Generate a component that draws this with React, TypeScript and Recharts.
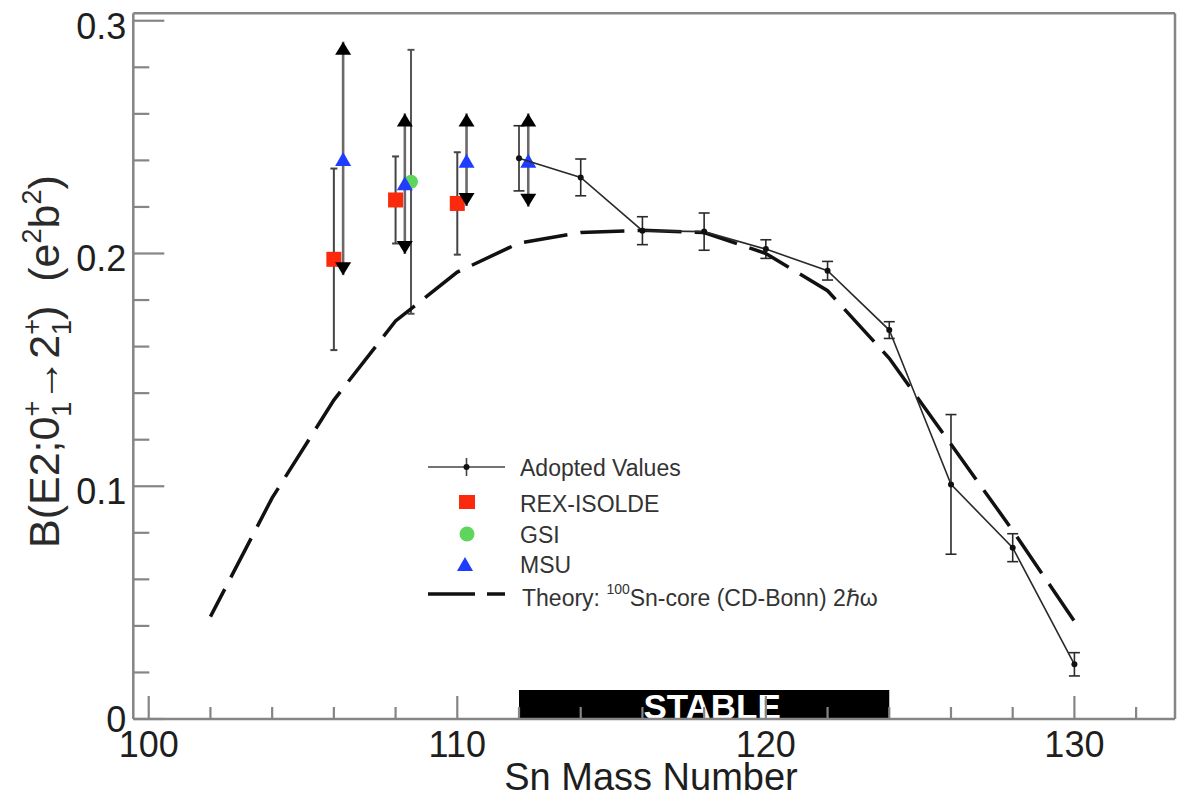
import { ScatterChart, Scatter, XAxis, YAxis, ErrorBar, ReferenceArea, Legend } from 'recharts'

const FONT = "'Liberation Sans', Arial, Helvetica, sans-serif"
const FRAME = '#858585'
const INK = '#1e1e1e'
const RED = '#fb2a0c'
const GREEN = '#5fd55c'
const BLUE = '#1f3dff'

// adopted B(E2; 0+ -> 2+) values for the Sn chain
const adoptedMass = [112, 114, 116, 118, 120, 122, 124, 126, 128, 130]
const adoptedBE2 = [0.2409, 0.2327, 0.2098, 0.2094, 0.2019, 0.1926, 0.1671, 0.1008, 0.0736, 0.0235]
const adoptedErr = [0.014, 0.0079, 0.006, 0.008, 0.004, 0.004, 0.0036, 0.03, 0.006, 0.005]

// REX-ISOLDE
const rexMass = [106, 108, 110]
const rexBE2 = [0.1975, 0.223, 0.2215]
const rexErr = [0.039, 0.0187, 0.022]

// GSI
const gsiMass = [108.5]
const gsiBE2 = [0.2308]
const gsiErr = [0.0567]

// MSU, with the ends of each range
const msuMass = [106.3, 108.3, 110.3, 112.3]
const msuBE2 = [0.2402, 0.2298, 0.2394, 0.2394]
const msuUpper = [0.291, 0.2602, 0.2602, 0.2602]
const msuLower = [0.1907, 0.1998, 0.2204, 0.2201]

// shell model, 100Sn core, CD-Bonn
const theoryMass = [102, 104, 106, 108, 110, 112, 114, 116, 118, 120, 122, 124, 126, 128, 130]
const theoryBE2 = [0.044, 0.095, 0.137, 0.171, 0.192, 0.2045, 0.209, 0.21, 0.209, 0.2, 0.184, 0.155, 0.118, 0.081, 0.042]

// stable isotopes band
const stableFrom = 112
const stableTo = 124
const stableHeight = 0.0125

const xDomain = [99.5, 133.26]
const yDomain = [0, 0.3032]
const xTicks = [100, 102, 104, 106, 108, 110, 112, 114, 116, 118, 120, 122, 124, 126, 128, 130, 132]
const xMajor = [100, 110, 120, 130]
const yTicks = [0, 0.02, 0.04, 0.06, 0.08, 0.1, 0.12, 0.14, 0.16, 0.18, 0.2, 0.22, 0.24, 0.26, 0.28, 0.3]
const yMajor = [0, 0.1, 0.2, 0.3]
const yMajorLabels = ['0', '0.1', '0.2', '0.3']

const adopted = adoptedMass.map((x, i) => ({ x, y: adoptedBE2[i], err: adoptedErr[i] }))
const rex = rexMass.map((x, i) => ({ x, y: rexBE2[i], err: rexErr[i] }))
const gsi = gsiMass.map((x, i) => ({ x, y: gsiBE2[i], err: gsiErr[i] }))
const msu = msuMass.map((x, i) => ({ x, y: msuBE2[i], err: [msuBE2[i] - msuLower[i], msuUpper[i] - msuBE2[i]] }))
const msuUp = msuMass.map((x, i) => ({ x, y: msuUpper[i] }))
const msuDown = msuMass.map((x, i) => ({ x, y: msuLower[i] }))
const theory = theoryMass.map((x, i) => ({ x, y: theoryBE2[i] }))

function XTick({ x, y, payload }: any) {
  const major = xMajor.includes(payload.value)
  return (
    <g>
      <line x1={x} x2={x} y1={y} y2={y - (major ? 23 : 12)} stroke={FRAME} strokeWidth={2.2} />
      {major && (
        <text x={x} y={y + 38} textAnchor="middle" fontSize={36} fill={INK} fontFamily={FONT}>
          {payload.value}
        </text>
      )}
    </g>
  )
}

function YTick({ x, y, payload }: any) {
  const i = yMajor.indexOf(payload.value)
  // the zero label sits a little higher so it clears the "100" below it
  const dy = payload.value === 0 ? 13 : 18
  return (
    <g>
      <line x1={x} x2={x + (i >= 0 ? 31 : 16)} y1={y} y2={y} stroke={FRAME} strokeWidth={2.2} />
      {i >= 0 && (
        <text x={x - 7} y={y + dy} textAnchor="end" fontSize={36} fill={INK} fontFamily={FONT}>
          {yMajorLabels[i]}
        </text>
      )}
    </g>
  )
}

function XTitle() {
  return (
    <text x={651} y={790} textAnchor="middle" fontSize={38} fill={INK} fontFamily={FONT}>
      Sn Mass Number
    </text>
  )
}

// B(E2;0+1 -> 2+1)  (e2b2), stacked sup/sub on the state labels
function YTitle() {
  return (
    <text transform="translate(59,548) rotate(-90)" fontSize={43} fill="#2a2a2a" fontFamily={FONT}>
      <tspan>B(E2;0</tspan>
      <tspan fontSize={27} dy={-18}>+</tspan>
      <tspan fontSize={27} dx={-16} dy={30}>1</tspan>
      <tspan dy={-12}>{'\u2192'}2</tspan>
      <tspan fontSize={27} dy={-18}>+</tspan>
      <tspan fontSize={27} dx={-16} dy={30}>1</tspan>
      <tspan dy={-12}>{')\u00a0\u00a0(e'}</tspan>
      <tspan fontSize={27} dy={-18}>2</tspan>
      <tspan dy={18}>b</tspan>
      <tspan fontSize={27} dy={-18}>2</tspan>
      <tspan dy={18}>)</tspan>
    </text>
  )
}

function StableLabel({ viewBox }: any) {
  return (
    <text
      x={viewBox.x + viewBox.width / 2 + 8}
      y={viewBox.y + viewBox.height}
      textAnchor="middle"
      fontSize={35}
      fontWeight="bold"
      fill="#fff"
      fontFamily={FONT}
    >
      STABLE
    </text>
  )
}

const Square = ({ cx, cy }: any) => <rect x={cx - 7.5} y={cy - 7.5} width={15} height={15} fill={RED} />
const Dot = ({ cx, cy }: any) => <circle cx={cx} cy={cy} r={7} fill={GREEN} />
const Triangle = ({ cx, cy }: any) => (
  <polygon points={`${cx},${cy - 8} ${cx - 8},${cy + 6} ${cx + 8},${cy + 6}`} fill={BLUE} />
)
const SmallDot = ({ cx, cy }: any) => <circle cx={cx} cy={cy} r={3} fill="#111" />
const ArrowUp = ({ cx, cy }: any) => (
  <polygon points={`${cx},${cy} ${cx - 8},${cy + 13} ${cx + 8},${cy + 13}`} fill="#000" />
)
const ArrowDown = ({ cx, cy }: any) => (
  <polygon points={`${cx},${cy} ${cx - 8},${cy - 13} ${cx + 8},${cy - 13}`} fill="#000" />
)
const NoMark = () => <g />

function LegendBox() {
  const t = { fontSize: 23, fill: '#333', fontFamily: FONT }
  return (
    <svg width={490} height={170} style={{ display: 'block', overflow: 'visible' }}>
      <line x1={8} x2={85} y1={17} y2={17} stroke="#444" strokeWidth={1.6} />
      <line x1={46.5} x2={46.5} y1={8} y2={26} stroke="#444" strokeWidth={1.6} />
      <circle cx={46.5} cy={17} r={3} fill="#111" />
      <text x={100} y={25.5} {...t}>Adopted Values</text>

      <rect x={39} y={45} width={16} height={14} fill={RED} />
      <text x={100} y={61.5} {...t}>REX-ISOLDE</text>

      <circle cx={47} cy={84} r={7.5} fill={GREEN} />
      <text x={100} y={93} {...t}>GSI</text>

      <polygon points="45,107 37,121 53,121" fill={BLUE} />
      <text x={100} y={122.5} {...t}>MSU</text>

      <line x1={8} x2={85} y1={144} y2={144} stroke="#111" strokeWidth={3.5} strokeDasharray="47 12" />
      <text x={102} y={155.5} {...t}>
        Theory: <tspan fontSize={14} dy={-12}>100</tspan>
        <tspan dy={12}>Sn-core (CD-Bonn) 2{'\u210f\u03c9'}</tspan>
      </text>
    </svg>
  )
}

export default function App() {
  return (
    <div style={{ position: 'absolute', left: 0, top: 0, width: 1187, height: 799, background: '#fff' }}>
      <ScatterChart width={1187} height={799} margin={{ top: 12.3, right: 11, bottom: 79, left: 132.3 }}>
        <XAxis
          type="number"
          dataKey="x"
          domain={xDomain}
          ticks={xTicks}
          interval={0}
          allowDataOverflow
          height={1}
          tickSize={0}
          tickMargin={0}
          tick={<XTick />}
          axisLine={{ stroke: FRAME, strokeWidth: 2.5 }}
          label={{ content: XTitle }}
        />
        <YAxis
          type="number"
          dataKey="y"
          domain={yDomain}
          ticks={yTicks}
          interval={0}
          allowDataOverflow
          width={1}
          tickSize={0}
          tickMargin={0}
          tick={<YTick />}
          axisLine={{ stroke: FRAME, strokeWidth: 2.5 }}
          label={{ content: YTitle }}
        />
        <XAxis
          xAxisId="top"
          orientation="top"
          type="number"
          domain={xDomain}
          height={1}
          tick={false}
          tickLine={false}
          axisLine={{ stroke: FRAME, strokeWidth: 2.5 }}
        />
        <YAxis
          yAxisId="right"
          orientation="right"
          type="number"
          domain={yDomain}
          width={1}
          tick={false}
          tickLine={false}
          axisLine={{ stroke: FRAME, strokeWidth: 2.5 }}
        />

        <ReferenceArea
          x1={stableFrom}
          x2={stableTo}
          y1={0}
          y2={stableHeight}
          fill="#000"
          fillOpacity={1}
          stroke="none"
          label={{ content: StableLabel }}
        />

        <Scatter
          name="Theory"
          data={theory}
          shape={NoMark}
          line={{ stroke: '#111', strokeWidth: 3.5, strokeDasharray: '44 13.2', strokeDashoffset: 13 }}
          isAnimationActive={false}
        />

        <Scatter name="REX-ISOLDE" data={rex} shape={Square} isAnimationActive={false}>
          <ErrorBar dataKey="err" direction="y" width={3.5} stroke="#444" strokeWidth={2} />
        </Scatter>

        <Scatter name="GSI" data={gsi} shape={Dot} isAnimationActive={false}>
          <ErrorBar dataKey="err" direction="y" width={3.5} stroke="#555" strokeWidth={2} />
        </Scatter>

        <Scatter name="MSU" data={msu} shape={Triangle} isAnimationActive={false}>
          <ErrorBar dataKey="err" direction="y" width={0} stroke="#6a6a6a" strokeWidth={2.6} />
        </Scatter>
        <Scatter name="MSU upper" data={msuUp} shape={ArrowUp} legendType="none" isAnimationActive={false} />
        <Scatter name="MSU lower" data={msuDown} shape={ArrowDown} legendType="none" isAnimationActive={false} />

        <Scatter
          name="Adopted Values"
          data={adopted}
          shape={SmallDot}
          line={{ stroke: '#2a2a2a', strokeWidth: 1.6 }}
          isAnimationActive={false}
        >
          <ErrorBar dataKey="err" direction="y" width={5.5} stroke="#2a2a2a" strokeWidth={1.6} />
        </Scatter>

        <Legend
          layout="vertical"
          align="center"
          verticalAlign="middle"
          content={() => <LegendBox />}
          wrapperStyle={{ left: 420, top: 450, width: 490, height: 170 }}
        />
      </ScatterChart>
    </div>
  )
}
